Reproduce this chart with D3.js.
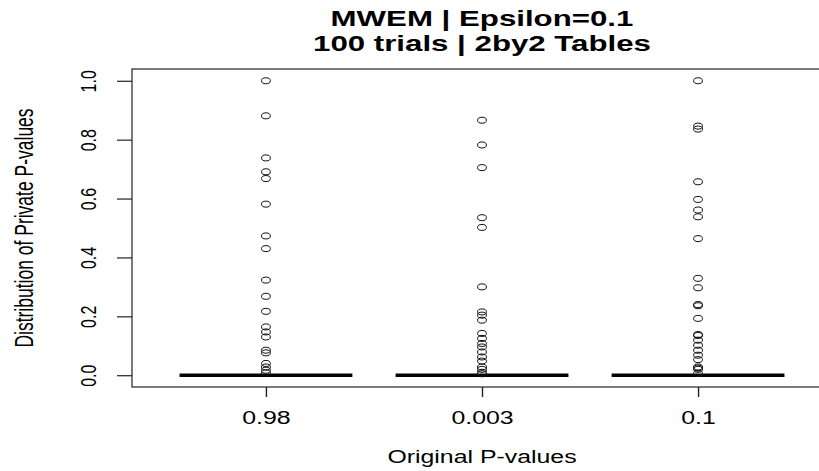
<!DOCTYPE html>
<html><head><meta charset="utf-8">
<script src="https://cdn.jsdelivr.net/npm/d3@7"></script>
<style>
html,body{margin:0;padding:0;background:#fff;overflow:hidden}
text{font-family:"Liberation Sans",Arial,sans-serif;fill:#000}
</style></head>
<body><svg id="c" width="819" height="471"></svg>
<script>
// ---- data ----
const categories = ["0.98", "0.003", "0.1"];
const medians   = [0, 0, 0];
const q1        = [0, 0, 0];
const q3        = [0, 0, 0];
const whiskLo   = [0, 0, 0];
const whiskHi   = [0, 0, 0];
const outliers098 = [1.0, 0.881, 0.738, 0.691, 0.668, 0.581, 0.473, 0.430, 0.323, 0.268,
  0.217, 0.164, 0.147, 0.130, 0.085, 0.076, 0.040, 0.028, 0.017, 0.008];
const outliers0003 = [0.866, 0.782, 0.705, 0.535, 0.502, 0.300, 0.215, 0.204, 0.187, 0.142,
  0.125, 0.108, 0.096, 0.079, 0.062, 0.048, 0.028, 0.020, 0.010, 0.005];
const outliers01 = [1.0, 0.846, 0.836, 0.657, 0.597, 0.561, 0.538, 0.464, 0.329, 0.297,
  0.240, 0.236, 0.193, 0.138, 0.135, 0.119, 0.102, 0.085, 0.068, 0.053, 0.028, 0.024, 0.020, 0.006];
const outliers = [outliers098, outliers0003, outliers01];
const yTicks = [0, 0.2, 0.4, 0.6, 0.8, 1.0];
const yTickLabels = ["0.0", "0.2", "0.4", "0.6", "0.8", "1.0"];
const titleLines = ["MWEM | Epsilon=0.1", "100 trials | 2by2 Tables"];
const xLabel = "Original P-values";
const yLabel = "Distribution of Private P-values";

(function draw() {
  const SX = 1.42;          // horizontal stretch of the raster
  const n = categories.length;
  const pL = 132, pR = 832, pT = 69, pB = 387;
  const x = d3.scaleLinear().domain([0.5 - 0.04 * n, n + 0.5 + 0.04 * n]).range([pL, pR]);
  const y = d3.scaleLinear().domain([-0.04, 1.04]).range([pB, pT]);
  const boxW = x(0.8) - x(0);
  const cx = (pL + pR) / 2;
  const FONT = '"Liberation Sans",Arial,sans-serif';

  const svg = d3.select("#c");
  const stroke = "#222";

  svg.append("rect").attr("x", pL).attr("y", pT).attr("width", pR - pL).attr("height", pB - pT)
    .attr("fill", "none").attr("stroke", stroke).attr("stroke-width", 1.2);

  const yAxis = svg.append("g").attr("transform", `translate(${pL},0)`)
    .call(d3.axisLeft(y).tickValues(yTicks).tickSize(15).tickFormat((d, i) => yTickLabels[i]));
  yAxis.select(".domain").remove();
  yAxis.selectAll(".tick line").attr("stroke", stroke).attr("stroke-width", 1.2);
  yAxis.selectAll(".tick text")
    .attr("x", null).attr("dy", "0.35em")
    .attr("transform", `translate(-44,0) scale(${SX},1) rotate(-90)`)
    .attr("text-anchor", "middle").attr("font-size", 16).attr("fill", "#000")
    .attr("font-family", FONT);

  const xAxis = svg.append("g").attr("transform", `translate(0,${pB})`)
    .call(d3.axisBottom(x).tickValues(d3.range(1, n + 1)).tickSize(10).tickFormat((d) => categories[d - 1]));
  xAxis.select(".domain").remove();
  xAxis.selectAll(".tick line").attr("stroke", stroke).attr("stroke-width", 1.4);
  xAxis.selectAll(".tick text")
    .attr("y", null).attr("dy", null)
    .attr("transform", `translate(0,37) scale(${SX},1)`)
    .attr("text-anchor", "middle").attr("font-size", 17.5).attr("fill", "#000")
    .attr("font-family", FONT);

  const g = svg.append("g");
  categories.forEach((c, i) => {
    const xc = x(i + 1);
    g.append("line").attr("x1", xc).attr("x2", xc).attr("y1", y(whiskLo[i])).attr("y2", y(q1[i]))
      .attr("stroke", "#000").attr("stroke-dasharray", "4,3");
    g.append("line").attr("x1", xc).attr("x2", xc).attr("y1", y(q3[i])).attr("y2", y(whiskHi[i]))
      .attr("stroke", "#000").attr("stroke-dasharray", "4,3");
    g.append("rect").attr("x", xc - boxW / 2).attr("y", y(q3[i])).attr("width", boxW)
      .attr("height", y(q1[i]) - y(q3[i])).attr("fill", "none").attr("stroke", "#000");
    g.append("line").attr("x1", xc - boxW / 2).attr("x2", xc + boxW / 2)
      .attr("y1", y(medians[i])).attr("y2", y(medians[i]))
      .attr("stroke", "#000").attr("stroke-width", 3.5);
    g.selectAll(null).data(outliers[i]).enter().append("ellipse")
      .attr("cx", xc).attr("cy", d => y(d))
      .attr("rx", 3.1 * SX).attr("ry", 3.0)
      .attr("fill", "none").attr("stroke", "#111").attr("stroke-width", 1);
  });

  titleLines.forEach((t, i) => {
    svg.append("text").text(t)
      .attr("transform", `translate(${cx},${26 + i * 25}) scale(${SX},1)`)
      .attr("text-anchor", "middle").attr("font-size", 22).attr("font-weight", "bold");
  });
  svg.append("text").text(xLabel)
    .attr("transform", `translate(${cx},463) scale(${SX},1)`)
    .attr("text-anchor", "middle").attr("font-size", 17.5);
  svg.append("text").text(yLabel)
    .attr("transform", `translate(24,${(pT + pB) / 2}) scale(${SX},1) rotate(-90)`)
    .attr("dy", "0.35em").attr("text-anchor", "middle").attr("font-size", 17.5);
})();
</script></body></html>
